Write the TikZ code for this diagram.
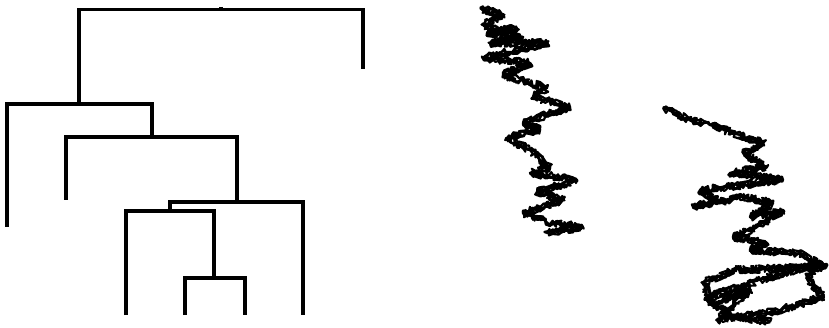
\documentclass[tikz,border=0pt]{standalone}
\usetikzlibrary{decorations.pathmorphing}

\tikzset{
  ramo/.style={line width=3.2pt, line join=miter},
  cammino/.style={line width=2.2pt, line join=round, decorate,
    decoration={random steps, segment length=2.5pt, amplitude=4pt}}
}

\begin{document}
\begin{tikzpicture}[x=1pt, y=-1pt]
        \useasboundingbox (0,0) rectangle (829,328);

        % Dendrogramma
        \draw[ramo] (221,7) -- (221,9.5);
        \draw[ramo] (79,104) |- (363,9.5) -- (363,69);
        \draw[ramo] (7,227) |- (152,104) -- (152,137);
        \draw[ramo] (66,200) |- (237,137) -- (237,202);
        \draw[ramo] (170,211) |- (303,202) -- (303,315);
        \draw[ramo] (126,315) |- (214,211) -- (214,278);
        \draw[ramo] (185,315) |- (245,278) -- (245,315);

        % Primo cammino casuale
        \pgfmathsetseed{17}
        \foreach \s in {1,...,4} {
          \draw[cammino] (480,8) -- (503,15) -- (483,25) -- (517,30) -- (487,33)
            -- (523,37) -- (490,43) -- (547,43) -- (483,58) -- (530,63)
            -- (503,75) -- (530,83) -- (547,88) -- (533,97) -- (570,107)
            -- (523,123) -- (540,130) -- (507,138) -- (530,150) -- (550,168)
            -- (530,173) -- (577,180) -- (537,192) -- (563,200) -- (523,213)
            -- (553,223) -- (583,227) -- (547,233);
        }

        % Secondo cammino casuale
        \pgfmathsetseed{41}
        \foreach \s in {1,...,4} {
          \draw[cammino] (663,108) -- (683,117) -- (710,125) -- (733,133)
            -- (763,143) -- (743,153) -- (767,167) -- (730,173) -- (783,180)
            -- (700,190) -- (717,200) -- (693,207) -- (743,197) -- (773,203)
            -- (750,217) -- (783,210) -- (757,227) -- (733,237) -- (767,243)
            -- (750,250) -- (800,253) -- (826,267) -- (733,270) -- (703,283)
            -- (713,303) -- (750,290) -- (717,320) -- (767,313) -- (790,307)
            -- (823,297) -- (807,277) -- (822,262) -- (760,280) -- (705,298)
            -- (730,315) -- (770,322);
        }
\end{tikzpicture}
\end{document}
